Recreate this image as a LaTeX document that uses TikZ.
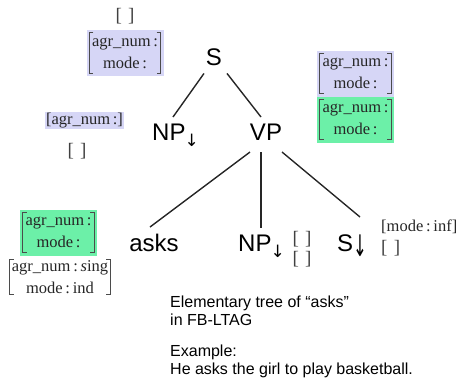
\documentclass[tikz,border=0pt]{standalone}
\usepackage{fontspec}
\setmainfont{Liberation Serif}
\newfontfamily\tsans{Liberation Sans}
\newfontfamily\arrfont{DejaVu Sans}
\usetikzlibrary{calc}
\definecolor{lav}{RGB}{214,214,246}
\definecolor{mint}{RGB}{108,240,168}
\definecolor{brkc}{RGB}{75,75,75}
\tikzset{
  tree/.style={font=\tsans\fontsize{24}{24}\selectfont, inner sep=0pt, anchor=base},
  fs/.style={font=\fontsize{16.5}{22}\selectfont, align=center, inner sep=0pt, text=black!85},
  fsbox/.style={fs, minimum width=77pt, minimum height=46pt},
  brk/.style={draw=brkc, line width=0.7pt},
  edge/.style={line width=1.4pt, draw=black!85},
  emptyfs/.style={font=\fontsize{19}{19}\selectfont, inner sep=0pt, text=black!75},
  captxt/.style={font=\tsans\fontsize{16}{18}\selectfont, align=left, inner sep=0pt, anchor=north west},
}
\newcommand\brks[1]{%
  \draw[brk] ([xshift=7pt,yshift=-3pt]#1.north west) -- ([xshift=3pt,yshift=-3pt]#1.north west)
     -- ([xshift=3pt,yshift=3pt]#1.south west) -- ([xshift=7pt,yshift=3pt]#1.south west);
  \draw[brk] ([xshift=-7pt,yshift=-3pt]#1.north east) -- ([xshift=-3pt,yshift=-3pt]#1.north east)
     -- ([xshift=-3pt,yshift=3pt]#1.south east) -- ([xshift=-7pt,yshift=3pt]#1.south east);
}
\newcommand\smarrow{\raisebox{-6pt}{\arrfont\fontsize{17}{17}\selectfont ↓}}
\begin{document}
\begin{tikzpicture}[x=1pt,y=-1pt]
\useasboundingbox (0,0) rectangle (456,391);
% tree labels
\node[tree] (S) at (214,65) {S};
\node[tree, anchor=base west] (NP1) at (152,140) {NP\kern-1pt\smarrow};
\node[tree] (VP) at (266,140) {VP};
\node[tree] (asks) at (154,251) {asks};
\node[tree, anchor=base west] (NP2) at (238,251) {NP\kern-1pt\smarrow};
\node[tree, anchor=base west] (S2) at (337,251) {S\raisebox{-5pt}{\scalebox{0.75}[1.35]{\arrfont\fontsize{22}{22}\selectfont ↓}}};
% edges
\draw[edge] ($(S.south)+(-10,8)$) -- ($(NP1.base west)+(21,-23)$);
\draw[edge] ($(S.south)+(13,8)$) -- ($(VP.base)+(-5,-23)$);
\draw[edge] ($(VP.base)+(-16,12)$) -- ($(asks.base)+(-4,-24)$);
\draw[edge] ($(VP.base)+(-5,12)$) -- ($(NP2.base west)+(23,-23)$);
\draw[edge] ($(VP.base)+(16,12)$) -- ($(S2.base west)+(23,-34)$);
% feature structures
\node[emptyfs] (e1) at (125,16) {[\,\,]};
\node[fsbox, fill=lav] (b1) at (125,53) {agr\_num\,:\\mode\,:}; \brks{b1}
\node[fsbox, fill=lav] (b2) at (355.5,73.5) {agr\_num\,:\\mode\,:}; \brks{b2}
\node[fsbox, fill=mint] (b3) at (355.5,119.5) {agr\_num\,:\\mode\,:}; \brks{b3}
\node[fs, fill=lav, inner xsep=1pt, inner ysep=1pt] (b4) at (84.5,120.5) {[agr\_num\,:]};
\node[emptyfs] (e2) at (77,151) {[\,\,]};
\node[fsbox, fill=mint] (b5) at (58.5,232.5) {agr\_num\,:\\mode\,:}; \brks{b5}
\node[fs, minimum width=106pt, minimum height=40pt] (b6) at (60,277) {agr\_num\,:\,\textit{s}ing\\mode\,:\,ind}; \brks{b6}
\node[emptyfs] (e3) at (302,239) {[\,\,]};
\node[emptyfs] (e4) at (302,259) {[\,\,]};
\node[fs, anchor=west] (e5) at (381,226.5) {[mode\,:\,inf]};
\node[emptyfs, anchor=west] (e6) at (381,248) {[\,\,]};
% caption
\node[captxt] (cap) at (170,296) {Elementary tree of “asks”\\in FB-LTAG\\[13pt]Example:\\He asks the girl to play basketball.};
\end{tikzpicture}
\end{document}
